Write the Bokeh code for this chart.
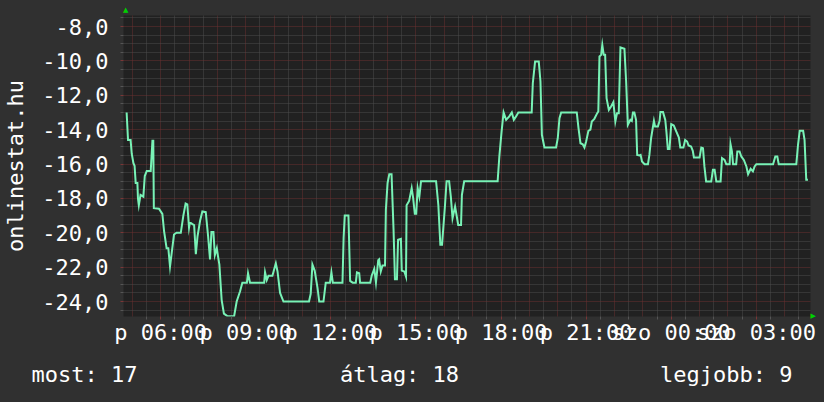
from bokeh.plotting import figure
from bokeh.layouts import column
from bokeh.models import FixedTicker, Range1d, LinearAxis, GlobalInlineStyleSheet
from bokeh.core.properties import value
from bokeh.embed import file_html
from bokeh.resources import INLINE

# ---- data (hours since Friday 00:00, rank shown as negative value) ----
time_h = [4.80, 4.85, 4.94, 4.98, 5.04, 5.08, 5.12, 5.18, 5.20, 5.23, 5.29, 5.39, 5.44, 5.51, 5.65, 5.71, 5.74, 5.76, 5.94,
          6.06, 6.12, 6.21, 6.27, 6.33, 6.38, 6.47, 6.56, 6.71, 6.80, 6.88, 6.94, 7.00, 7.03, 7.12, 7.18, 7.24, 7.30, 7.39,
          7.47, 7.59, 7.67, 7.74, 7.79, 7.86, 7.91, 7.98, 8.02, 8.07, 8.15, 8.23, 8.35, 8.59, 8.68, 8.80, 8.88, 9.04, 9.08,
          9.15, 9.65, 9.68, 9.74, 9.80, 9.94, 10.06, 10.12, 10.21, 10.33, 11.23, 11.29, 11.35, 11.43, 11.53, 11.59, 11.74,
          11.82, 11.97, 12.02, 12.07, 12.41, 12.45, 12.49, 12.62, 12.68, 12.77, 12.88, 12.92, 13.00, 13.03, 13.39, 13.44,
          13.53, 13.59, 13.67, 13.70, 13.76, 13.82, 13.91, 13.94, 14.00, 14.06, 14.14, 14.21, 14.26, 14.33, 14.37, 14.47,
          14.50, 14.59, 14.65, 14.67, 14.76, 14.85, 14.90, 14.96, 15.01, 15.06, 15.12, 15.18, 15.71, 15.79, 15.86, 15.92,
          16.02, 16.08, 16.17, 16.23, 16.29, 16.38, 16.49, 16.59, 16.62, 16.70, 17.88, 17.94, 18.02, 18.09, 18.18, 18.29,
          18.38, 18.45, 18.53, 18.61, 19.08, 19.12, 19.20, 19.33, 19.39, 19.44, 19.53, 19.94, 20.00, 20.06, 20.12, 20.67,
          20.73, 20.80, 20.88, 20.94, 21.00, 21.08, 21.15, 21.20, 21.29, 21.39, 21.43, 21.47, 21.53, 21.57, 21.62, 21.67,
          21.72, 21.80, 21.88, 21.96, 22.03, 22.09, 22.15, 22.21, 22.35, 22.41, 22.47, 22.56, 22.61, 22.65, 22.70, 22.76,
          22.80, 22.88, 22.92, 22.97, 23.06, 23.18, 23.23, 23.29, 23.39, 23.43, 23.53, 23.59, 23.62, 23.71, 23.79, 23.83,
          23.88, 23.94, 24.00, 24.09, 24.18, 24.27, 24.32, 24.43, 24.49, 24.56, 24.61, 24.70, 24.76, 24.80, 25.00, 25.06,
          25.12, 25.17, 25.23, 25.41, 25.47, 25.53, 25.59, 25.74, 25.79, 25.88, 25.94, 26.06, 26.09, 26.14, 26.18, 26.29,
          26.33, 26.41, 26.47, 26.56, 26.65, 26.71, 26.80, 26.88, 26.94, 27.00, 27.59, 27.67, 27.74, 27.79, 28.41, 28.47,
          28.53, 28.65, 28.70, 28.76, 28.82]
rank_value = [-13.0, -14.6, -14.6, -15.4, -15.95, -16.1, -17.1, -17.1, -18.0, -18.4, -17.8, -17.9, -16.7, -16.4, -16.4,
              -14.65, -14.65, -18.57, -18.6, -18.9, -19.9, -20.9, -20.9, -21.96, -21.3, -20.1, -20.0, -20.0, -19.0, -18.3,
              -18.35, -19.7, -19.4, -19.5, -19.55, -21.25, -20.2, -19.3, -18.76, -18.8, -20.15, -21.55, -19.96, -19.96,
              -21.3, -20.9, -21.35, -21.85, -23.9, -24.7, -24.85, -24.85, -24.0, -23.4, -22.9, -22.9, -22.35, -22.9,
              -22.9, -22.3, -22.75, -22.5, -22.5, -21.77, -22.25, -23.5, -24.0, -24.0, -23.55, -21.85, -22.2, -23.2,
              -24.0, -24.0, -22.9, -22.9, -22.3, -22.9, -22.9, -20.3, -19.0, -19.0, -22.8, -22.9, -22.9, -22.3, -22.35,
              -22.9, -22.9, -22.5, -22.1, -22.9, -21.6, -21.55, -22.25, -21.9, -21.9, -18.65, -17.1, -16.6, -16.6, -19.8,
              -22.7, -22.7, -20.4, -20.35, -22.2, -22.25, -22.55, -18.4, -18.15, -17.4, -17.95, -18.9, -18.9, -17.4,
              -17.9, -17.0, -17.0, -18.4, -20.7, -20.7, -18.5, -17.0, -17.0, -17.9, -19.15, -18.47, -19.54, -19.54,
              -17.8, -17.0, -17.0, -15.56, -14.1, -13.0, -13.43, -13.23, -13.0, -13.43, -13.23, -13.0, -13.0, -11.3,
              -10.04, -10.04, -11.2, -14.3, -15.04, -15.04, -14.5, -13.33, -13.0, -13.0, -13.9, -14.79, -14.85, -15.04,
              -14.69, -14.07, -14.0, -13.53, -13.37, -13.04, -12.94, -9.74, -9.65, -9.07, -9.65, -9.65, -12.17, -12.85,
              -12.65, -12.4, -13.53, -13.04, -13.04, -9.22, -9.3, -11.2, -13.72, -13.43, -13.49, -13.0, -13.0, -13.43,
              -15.47, -15.5, -15.47, -15.85, -16.01, -16.01, -15.47, -14.5, -13.49, -13.82, -13.82, -13.49, -12.98,
              -12.98, -13.43, -14.11, -15.12, -15.12, -13.68, -13.76, -14.11, -14.46, -15.04, -15.04, -14.6, -14.69,
              -14.92, -14.98, -15.23, -15.62, -15.62, -15.04, -15.08, -16.14, -17.02, -17.02, -16.34, -16.34, -17.02,
              -17.02, -15.66, -15.76, -16.01, -16.01, -14.84, -15.27, -16.01, -16.01, -15.27, -15.27, -15.56, -15.76,
              -16.14, -16.59, -16.28, -16.43, -16.14, -16.01, -16.01, -15.56, -15.56, -16.01, -16.01, -14.88, -14.07,
              -14.07, -14.6, -16.92, -16.92]

x_tick_hours = [6, 9, 12, 15, 18, 21, 24, 27]
x_tick_labels = ["p 06:00", "p 09:00", "p 12:00", "p 15:00", "p 18:00", "p 21:00", "szo 00:00", "szo 03:00"]
y_ticks = [-24, -22, -20, -18, -16, -14, -12, -10, -8]
y_tick_labels = ["-24,0", "-22,0", "-20,0", "-18,0", "-16,0", "-14,0", "-12,0", "-10,0", "-8,0"]
y_title = "onlinestat.hu"
stat_names = ["most", "átlag", "legjobb"]
stat_values = [17, 18, 9]

X_START, X_END = 4.69, 28.91
Y_MIN, Y_MAX = -24.87, -7.36

FONT = "DejaVu Sans Mono"
FS = "22px"
OUTER = "#303030"
INNER = "#212121"
MAJOR = "#6a3030"
MINOR = "#4c4c4c"
ARROW = "#00d000"

css = GlobalInlineStyleSheet(css="html,body{margin:0;padding:0;background:%s;overflow:hidden;}" % OUTER)

p = figure(width=824, height=352, x_range=Range1d(X_START, X_END), y_range=Range1d(Y_MIN, Y_MAX),
           output_backend="svg", toolbar_location=None,
           min_border_left=123, min_border_right=14, min_border_top=15, min_border_bottom=36,
           background_fill_color=INNER, border_fill_color=OUTER, outline_line_color=None,
           stylesheets=[css], frame_align=False)

# grids
hours = list(range(5, 29))
half_hours = [h + 0.5 for h in range(4, 29)]
p.xgrid.ticker = FixedTicker(ticks=hours, minor_ticks=half_hours)
y_minor = [v / 2 for v in range(-50, -13) if v % 4 != 0]
p.ygrid.ticker = FixedTicker(ticks=y_ticks, minor_ticks=y_minor)
for g in (p.xgrid[0], p.ygrid[0]):
    g.grid_line_color = MAJOR
    g.grid_line_dash = "1 1"
    g.grid_line_width = 1
    g.minor_grid_line_color = MINOR
    g.minor_grid_line_dash = "1 1"
    g.minor_grid_line_width = 1
    g.level = "underlay"

# axes
p.xaxis.ticker = FixedTicker(ticks=x_tick_hours, minor_ticks=half_hours)
p.xaxis.major_label_overrides = dict(zip(x_tick_hours, x_tick_labels))
p.yaxis.ticker = FixedTicker(ticks=y_ticks, minor_ticks=y_minor)
p.yaxis.major_label_overrides = dict(zip(y_ticks, y_tick_labels))
for ax in (p.xaxis[0], p.yaxis[0]):
    ax.axis_line_color = None
    ax.major_tick_line_color = "#7a3636"
    ax.minor_tick_line_color = "#555555"
    ax.major_tick_in = 0
    ax.major_tick_out = 3
    ax.minor_tick_in = 0
    ax.minor_tick_out = 3
    ax.major_label_text_font = FONT
    ax.major_label_text_font_size = FS
    ax.major_label_text_color = "#ffffff"
p.xaxis.major_label_standoff = 0
p.yaxis.major_label_standoff = 12
p.yaxis.axis_label = y_title
p.yaxis.axis_label_text_font = FONT
p.yaxis.axis_label_text_font_size = FS
p.yaxis.axis_label_text_font_style = "normal"
p.yaxis.axis_label_text_color = "#ffffff"
p.yaxis.axis_label_standoff = 11

# data line
p.line(time_h, rank_value, line_color="#78f2b6", line_width=2, line_join="miter")

# axis arrow heads, drawn as single-tick axes outside the frame
top_arrow_x = [4.765]
right_arrow_y = [-24.86]
top_ax = LinearAxis(ticker=FixedTicker(ticks=top_arrow_x), major_label_overrides={top_arrow_x[0]: "▲"},
                    axis_line_color=None, major_tick_line_color=None, major_tick_out=0, major_tick_in=0,
                    minor_tick_line_color=None, major_label_standoff=2,
                    major_label_text_font="DejaVu Sans", major_label_text_font_size="7px",
                    major_label_text_color=ARROW)
p.add_layout(top_ax, "above")
right_ax = LinearAxis(ticker=FixedTicker(ticks=right_arrow_y), major_label_overrides={right_arrow_y[0]: "▶"},
                      axis_line_color=None, major_tick_line_color=None, major_tick_out=0, major_tick_in=0,
                      minor_tick_line_color=None, major_label_standoff=0,
                      major_label_text_font="DejaVu Sans", major_label_text_font_size="7px",
                      major_label_text_color=ARROW)
p.add_layout(right_ax, "right")

# statistics line under the chart (a strip in page pixels)
s = figure(width=824, height=50, x_range=Range1d(0, 824), y_range=Range1d(0, 50),
           output_backend="svg", toolbar_location=None, min_border=0,
           background_fill_color=OUTER, border_fill_color=OUTER, outline_line_color=None,
           frame_align=False)
s.axis.visible = False
s.grid.visible = False
stat_x = [31, 399, 792]
stat_align = ["left", "center", "right"]
for name, val, sx, al in zip(stat_names, stat_values, stat_x, stat_align):
    s.text(x=[sx], y=[28], text=[f"{name}: {val}"], text_align=al, text_baseline="alphabetic",
           text_font=value(FONT), text_font_size=value(FS), text_color="#ffffff")

layout = column(p, s, spacing=0)
open("out.html", "w").write(file_html(layout, INLINE))
